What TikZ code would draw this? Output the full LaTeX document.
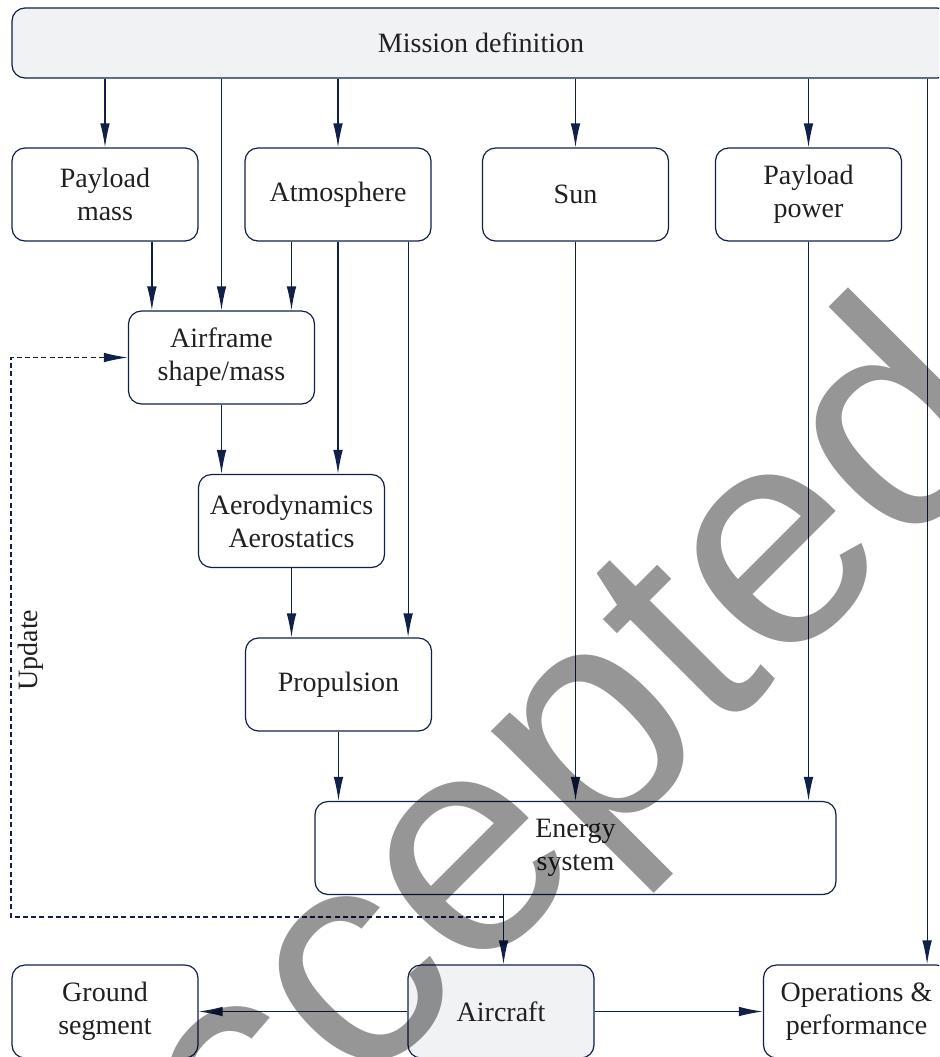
\documentclass[tikz,border=0pt]{standalone}
\usepackage{fontspec}
\setmainfont{Liberation Serif}
\newfontfamily\wmfont{Liberation Sans}
\usetikzlibrary{arrows.meta}
\definecolor{navy}{RGB}{16,32,72}
\definecolor{boxfill}{RGB}{241,242,244}
\definecolor{ink}{RGB}{35,31,32}
\tikzset{block/.style={draw=navy,line width=0.6pt,rounded corners=6.5pt,
                       minimum width=93pt,minimum height=46.5pt,align=center,
                       text=ink,inner sep=2pt,font=\fontsize{14}{16.5}\selectfont},
         shaded/.style={block,fill=boxfill},
         flow/.style={draw=navy,line width=0.6pt,-{Latex[length=12pt,width=4.8pt]}},
         }

\begin{document}
\begin{tikzpicture}[x=0.5pt,y=-0.5pt,
	update/.style={flow,dash pattern=on 2.5pt off 1.6pt},
	watermark/.style={font=\wmfont\fontsize{156}{156}\selectfont,rotate=45,
	                  inner sep=0pt,text=black,text opacity=0.41}]
\path[use as bounding box] (0,0) rectangle (939,1057);
\clip (0,0) rectangle (939,1057);
\node[shaded,minimum width=469pt,minimum height=35pt] (mission) at (481,43) {Mission definition};
\node[block] (pmass) at (105,194.5) {Payload\\mass};
\node[block] (atmo) at (338,194.5) {Atmosphere};
\node[block] (sun) at (575.5,194.5) {Sun};
\node[block] (ppower) at (808.5,194.5) {Payload\\power};
\node[block] (airframe) at (221.5,357.5) {Airframe\\shape/mass};
\node[block] (aero) at (291.5,521) {Aerodynamics\\Aerostatics};
\node[block] (prop) at (338.5,684.5) {Propulsion};
\node[block,minimum width=260.5pt] (energy) at (575.5,848) {Energy\\system};
\node[block] (ground) at (105,1011.5) {Ground\\segment};
\node[shaded] (aircraft) at (501,1011.5) {Aircraft};
\node[block] (ops) at (856.5,1011.5) {Operations \&\\performance};
\coordinate (opsin) at ([xshift=-11.5pt]ops.north east);
\coordinate (massin) at ([xshift=12pt]airframe.north west);
\coordinate (propin) at ([xshift=-12pt]prop.north east);
\coordinate (split) at (503.5,917);
\coordinate (ucorner) at (11,917);
\draw[flow] (pmass.north |- mission.south) -- (pmass.north);
\draw[flow] (airframe.north |- mission.south) -- (airframe.north);
\draw[flow] (atmo.north |- mission.south) -- (atmo.north);
\draw[flow] (sun.north |- mission.south) -- (sun.north);
\draw[flow] (ppower.north |- mission.south) -- (ppower.north);
\draw[flow] (opsin |- mission.south) -- (opsin);
\draw[flow] (massin |- pmass.south) -- (massin);
\draw[flow] (aero.north |- atmo.south) -- (aero.north |- airframe.north);
\draw[flow] (atmo.south) -- (atmo.south |- aero.north);
\draw[flow] (propin |- atmo.south) -- (propin);
\draw[flow] (airframe.south) -- (airframe.south |- aero.north);
\draw[flow] (aero.south) -- (aero.south |- prop.north);
\draw[flow] (prop.south) -- (prop.south |- energy.north);
\draw[flow] (sun.south) -- (sun.south |- energy.north);
\draw[flow] (ppower.south) -- (ppower.south |- energy.north);
\draw[flow] (split |- energy.south) -- (split |- aircraft.north);
\draw[update] (split) -- (ucorner) -- node[pos=0.477,rotate=90,anchor=north,text=ink,
	font=\fontsize{14}{16.5}\selectfont,inner sep=3pt] {Update} (ucorner |- airframe.west) -- (airframe.west);
\draw[flow] (aircraft.west) -- (ground.east);
\draw[flow] (aircraft.east) -- (ops.west);
\node[watermark] (stamp) at (506,836) {Accepted};
\end{tikzpicture}
\end{document}
